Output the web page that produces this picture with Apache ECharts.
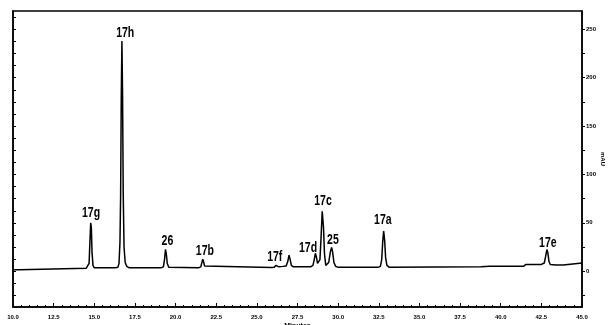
<!DOCTYPE html>
<html><head><meta charset="utf-8">
<script src="https://cdn.jsdelivr.net/npm/echarts@6/dist/echarts.min.js"></script>
<style>html,body{margin:0;padding:0;background:#fff}#c{width:610px;height:325px}</style>
</head><body><div id="c"></div>
<script>
// retention time (min) / absorbance (mAU) of the trace
const traceTime = [10.0,10.4,10.45,14.5,14.62,14.68,14.73,14.78,14.82,14.86,14.92,15.0,
 16.3,16.45,16.52,16.58,16.62,16.66,16.70,16.74,16.78,16.83,16.9,17.0,17.15,
 19.1,19.25,19.32,19.38,19.43,19.49,19.58,19.7,
 21.4,21.55,21.62,21.67,21.72,21.78,21.9,
 25.9,26.05,26.12,26.18,26.25,26.35,26.6,26.8,26.9,26.98,27.05,27.12,27.25,
 28.3,28.45,28.53,28.6,28.66,28.73,28.8,28.88,28.95,29.02,29.06,29.1,29.16,29.24,29.32,29.42,29.52,29.6,29.66,29.74,29.85,30.0,
 32.45,32.6,32.68,32.74,32.8,32.86,32.92,33.0,33.15,
 38.8,39.3,41.4,41.55,42.5,42.68,42.76,42.84,42.9,42.97,43.05,43.4,43.85,43.95,45.0];
const traceMAU = [1.5,1.5,3,3,3.5,8,30,50,45,20,6,3.5,
 3.5,4,8,30,78,180,238,182,80,25,9,5,3.5,
 3.5,4.5,12,22.5,18,8,4,3.5,
 3.5,4.5,9,12.5,10,5.5,3.8,
 3.8,4,5.5,6,5,4.5,5,5.5,10,16.5,12,6,4.5,
 4.5,6,12,18.5,15,8,7,12,35,62,64,45,18,6,5,9,20,24.5,20,9,5,4,
 4,5,12,30,41.5,32,14,6,4,
 4.5,5,5,7,7,8.5,15,22.4,19,10,7,6.5,6.5,8.5,8.5];
// peak labels and their anchor (time, mAU)
const peakNames = ['17g','17h','26','17b','17f','17d','17c','25','17a','17e'];
const peakLabelTime = [14.8,16.9,19.5,21.8,26.1,28.15,29.07,29.68,32.75,42.9];
const peakLabelMAU = [60,246,31,20.7,14.5,23.8,72,32,52.7,29];
const xTicks = [10,12.5,15,17.5,20,22.5,25,27.5,30,32.5,35,37.5,40,42.5,45];
const yTickLabels = [0,50,100,150,200,250];
const yTicksMinor = [-25,0,25,50,75,100,125,150,175,200,225,250];
const yTicksLeft = [-25,-12.5,0,12.5,25,37.5,50,62.5,75,87.5,100,112.5,125,137.5,150,162.5,175,187.5,200,212.5,225,237.5,250,262.5];

const chart = echarts.init(document.getElementById('c'));
const FONT = 'Liberation Sans, Arial, sans-serif';
const trace = traceTime.map((t,i)=>[t,traceMAU[i]]);
chart.setOption({
  animation:false,
  backgroundColor:'#fff',
  grid:{left:13,right:28,top:11,bottom:18,containLabel:false,outerBoundsMode:'none',show:true,borderColor:'#000',borderWidth:1.5},
  xAxis:{type:'value',min:10,max:45,interval:2.5,
    name:'Minutes',nameLocation:'middle',nameGap:16,nameMoveOverlap:false,nameTextStyle:{fontSize:7,fontWeight:'bold',color:'#000',fontFamily:FONT},
    axisLine:{onZero:false,lineStyle:{color:'#000',width:1.5}},
    axisTick:{inside:true,length:4,lineStyle:{color:'#000'}},
    minorTick:{show:true,splitNumber:5,length:2,lineStyle:{color:'#000'}},
    splitLine:{show:false},
    axisLabel:{margin:7,fontSize:6,fontWeight:'bold',color:'#000',fontFamily:FONT,formatter:v=>v.toFixed(1)}},
  yAxis:[
    {type:'value',position:'right',min:-37,max:269,
      name:'mAU',nameLocation:'middle',nameGap:18,nameMoveOverlap:false,nameRotate:-90,nameTextStyle:{fontSize:6,fontWeight:'bold',color:'#000',fontFamily:FONT},
      axisLine:{show:true,onZero:false,lineStyle:{color:'#000',width:1.5}},
      axisTick:{show:true,length:3,customValues:yTicksMinor,lineStyle:{color:'#000'}},
      splitLine:{show:false},
      axisLabel:{margin:4,fontSize:6,fontWeight:'bold',color:'#000',fontFamily:FONT,customValues:yTickLabels}},
    {type:'value',position:'left',min:-37,max:269,
      axisLine:{show:true,onZero:false,lineStyle:{color:'#000',width:1.5}},
      axisTick:{show:true,inside:true,length:3,customValues:yTicksLeft,lineStyle:{color:'#000'}},
      splitLine:{show:false},axisLabel:{show:false}}
  ],
  series:[
    {type:'line',data:trace,showSymbol:false,symbol:'none',lineStyle:{color:'#000',width:1.5},yAxisIndex:0}
  ]
});
const gtexts = peakNames.map((n,i)=>{
  const p = chart.convertToPixel({xAxisIndex:0,yAxisIndex:0},[peakLabelTime[i],peakLabelMAU[i]]);
  return {type:'text',x:p[0],y:p[1],scaleX:0.75,z:100,
    style:{text:n,font:'bold 14px '+FONT,fill:'#000',textAlign:'center',textVerticalAlign:'middle'}};
});
chart.setOption({graphic:gtexts});
</script></body></html>
